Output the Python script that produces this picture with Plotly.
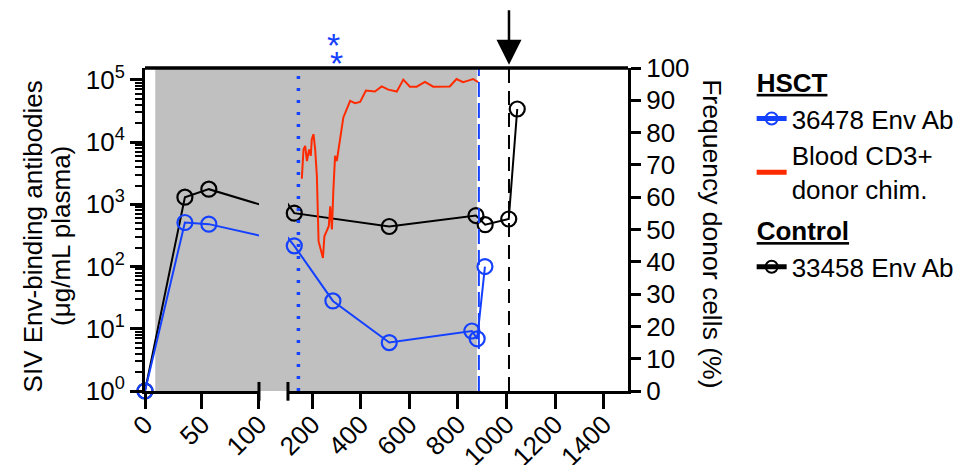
import plotly.graph_objects as go

# ---------------- data ----------------
blue_day = [0, 35, 56, 126, 285, 517, 857, 879, 911]
blue_ab = [1, 510, 480, 215, 28, 6.0, 9.2, 6.9, 100]

black_day = [0, 35, 56, 126, 517, 874, 912, 1009, 1044]
black_ab = [1, 1300, 1750, 720, 440, 660, 470, 580, 34000]

red_day = [157, 164, 171, 178, 187, 194, 198, 205, 212, 219, 226, 235, 244, 250,
           260, 268, 274, 281, 287, 294, 301, 315, 328, 356, 376, 397, 421, 458,
           486, 513, 548, 575, 602, 630, 664, 698, 732, 766, 794, 821, 842, 862, 883]
red_chim = [65.7, 74.8, 75.9, 71.2, 74.8, 72.8, 77.9, 79.5, 74.8, 66.6, 46.4, 43.8,
            41.2, 47.9, 49.5, 51.0, 57.2, 50.0, 62.4, 72.8, 71.2, 79.0, 84.7, 89.8,
            89.1, 89.5, 93.0, 92.7, 94.3, 93.3, 92.7, 96.4, 94.2, 94.2, 95.7, 94.2,
            94.3, 94.3, 96.6, 95.6, 96.1, 96.6, 95.6]

shade_start, shade_end = 9, 878
dotted_day = 143
blue_dash_day = 886
black_dash_day = 1010
star_day = 298

seg1_ticks = [0, 50, 100]
seg2_ticks = [200, 400, 600, 800, 1000, 1200, 1400]
y_ticks = [1, 10, 100, 1000, 10000, 100000]
y_ticktext = ["10<sup>0</sup>", "10<sup>1</sup>", "10<sup>2</sup>",
              "10<sup>3</sup>", "10<sup>4</sup>", "10<sup>5</sup>"]
y_minor = [m * 10 ** e for e in range(0, 5) for m in range(2, 10)]
y2_ticks = list(range(0, 101, 10))

BLUE = "#1440ff"
RED = "#ff2a00"
BLACK = "#000000"
GRAY = "#c0c0c0"
FONT = "Liberation Sans, Arial, Helvetica, sans-serif"
FS = 26

SEG1_DOM = [0, 0.236]
SEG2_DOM = [0.296, 1]

fig = go.Figure()

for xa in ["x", "x2"]:
    first = xa == "x"
    fig.add_trace(go.Scatter(
        x=black_day, y=black_ab, xaxis=xa, yaxis="y",
        mode="lines+markers", cliponaxis=False,
        line=dict(color=BLACK, width=2),
        marker=dict(symbol="circle-open", size=15, color=BLACK, line=dict(width=2.2)),
        name="33458 Env Ab", legendgroup="Control", legendrank=3,
        legendgrouptitle=dict(text="<b><u>Control</u></b>", font=dict(size=FS)),
        showlegend=first))
    fig.add_trace(go.Scatter(
        x=blue_day, y=blue_ab, xaxis=xa, yaxis="y",
        mode="lines+markers", cliponaxis=False,
        line=dict(color=BLUE, width=2),
        marker=dict(symbol="circle-open", size=15, color=BLUE, line=dict(width=2.2)),
        name="36478 Env Ab", legendgroup="HSCT", legendrank=1,
        legendgrouptitle=dict(text="<b><u>HSCT</u></b>", font=dict(size=FS)),
        showlegend=first))

fig.add_trace(go.Scatter(
    x=red_day, y=red_chim, xaxis="x2", yaxis="y2", mode="lines",
    line=dict(color=RED, width=2),
    name="Blood CD3+<br>donor chim.", legendgroup="HSCT", legendrank=2))

shapes = [
    # shading
    dict(type="rect", xref="x", yref="paper", x0=shade_start, x1=100, y0=0, y1=1,
         fillcolor=GRAY, line=dict(width=0), layer="below"),
    dict(type="rect", xref="paper", yref="paper", x0=SEG1_DOM[1] - 0.004, x1=SEG2_DOM[0] + 0.004,
         y0=0, y1=1, fillcolor=GRAY, line=dict(width=0), layer="below"),
    dict(type="rect", xref="x2", yref="paper", x0=100, x1=shade_end, y0=0, y1=1,
         fillcolor=GRAY, line=dict(width=0), layer="below"),
    # vertical reference lines
    dict(type="line", xref="x2", yref="paper", x0=dotted_day, x1=dotted_day, y0=0, y1=1,
         line=dict(color=BLUE, width=3.5, dash="3px,9px")),
    dict(type="line", xref="x2", yref="paper", x0=blue_dash_day, x1=blue_dash_day, y0=0, y1=1,
         line=dict(color=BLUE, width=2, dash="15px,6px")),
    dict(type="line", xref="x2", yref="paper", x0=black_dash_day, x1=black_dash_day, y0=0, y1=1,
         line=dict(color=BLACK, width=2, dash="14px,8px")),
    # top frame
    dict(type="line", xref="paper", yref="paper", x0=0, x1=1, y0=1, y1=1,
         line=dict(color=BLACK, width=3.5)),
    # axis-break marks
    dict(type="line", xref="paper", yref="paper", x0=SEG1_DOM[1], x1=SEG1_DOM[1], y0=0.028, y1=-0.03,
         line=dict(color=BLACK, width=3)),
    dict(type="line", xref="paper", yref="paper", x0=SEG2_DOM[0], x1=SEG2_DOM[0], y0=0.028, y1=-0.03,
         line=dict(color=BLACK, width=3)),
]

annotations = [
    dict(xref="paper", yref="paper", x=-0.233, y=0.48, text="SIV Env-binding antibodies",
         textangle=-90, showarrow=False, font=dict(size=FS), xanchor="center", yanchor="middle"),
    dict(xref="paper", yref="paper", x=-0.174, y=0.48, text="(μg/mL plasma)",
         textangle=-90, showarrow=False, font=dict(size=FS), xanchor="center", yanchor="middle"),
    dict(xref="paper", yref="paper", x=1.175, y=0.487, text="Frequency donor cells (%)",
         textangle=90, showarrow=False, font=dict(size=FS + 0.5), xanchor="center", yanchor="middle"),
    dict(xref="x2", yref="paper", x=black_dash_day, y=1.01, text="", showarrow=True,
         ax=0, ay=-56, arrowhead=2, arrowsize=2.0, arrowwidth=2.5, arrowcolor=BLACK, standoff=0),
    dict(xref="x2", yref="paper", x=star_day - 10, y=1.07, text="*", showarrow=False,
         font=dict(size=34, color=BLUE), xanchor="center", yanchor="middle"),
    dict(xref="x2", yref="paper", x=star_day, y=1.016, text="*", showarrow=False,
         font=dict(size=34, color=BLUE), xanchor="center", yanchor="middle"),
]

xcommon = dict(showgrid=False, zeroline=False, showline=True, linecolor=BLACK, linewidth=3,
               ticks="outside", ticklen=15, tickwidth=3, tickcolor=BLACK,
               tickangle=-45, tickfont=dict(size=FS), anchor="y", automargin=False,
               ticklabelstandoff=-10)

fig.update_layout(
    width=965, height=465,
    margin=dict(l=137, r=345, t=60, b=82),
    template="none",
    paper_bgcolor="white", plot_bgcolor="rgba(0,0,0,0)",
    font=dict(family=FONT, size=FS, color=BLACK),
    xaxis=dict(domain=SEG1_DOM, range=[0, 100], tickvals=seg1_ticks,
               ticktext=[str(v) for v in seg1_ticks], **xcommon),
    xaxis2=dict(domain=SEG2_DOM, range=[100, 1500], tickvals=seg2_ticks,
                ticktext=[str(v) for v in seg2_ticks], **xcommon),
    yaxis=dict(type="log", range=[0, 5.19], anchor="x", showgrid=False, zeroline=False,
               showline=True, linecolor=BLACK, linewidth=3,
               tickvals=y_ticks, ticktext=y_ticktext, ticks="outside", ticklen=12,
               tickwidth=3, tickcolor=BLACK, tickfont=dict(size=FS), automargin=False,
               minor=dict(tickvals=y_minor, ticks="outside", ticklen=7, tickwidth=2,
                          tickcolor=BLACK, showgrid=False)),
    yaxis2=dict(range=[0, 100], overlaying="y", side="right", anchor="x2",
                showgrid=False, zeroline=False, showline=True, linecolor=BLACK, linewidth=3,
                tickvals=y2_ticks, ticks="outside", ticklen=10, tickwidth=3, tickcolor=BLACK,
                tickfont=dict(size=FS), automargin=False),
    legend=dict(x=1.256, y=1.03, xanchor="left", yanchor="top", traceorder="grouped",
                font=dict(size=FS), tracegroupgap=4, bgcolor="rgba(0,0,0,0)",
                itemsizing="constant"),
    shapes=shapes,
    annotations=annotations,
)

fig.write_html("out.html")
